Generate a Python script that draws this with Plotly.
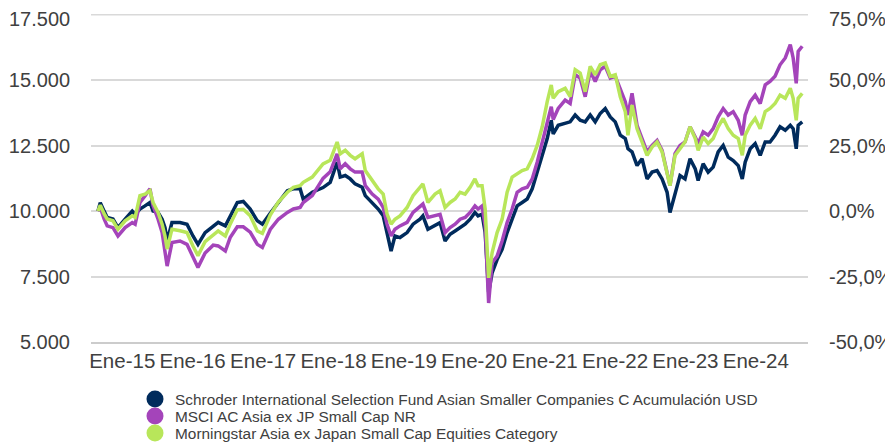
import plotly.graph_objects as go

dates = [
    '2014-08-28', '2014-09-09', '2014-09-29', '2014-10-15', '2014-11-14', '2014-12-10',
    '2015-01-16', '2015-02-22', '2015-03-09', '2015-04-03', '2015-04-29', '2015-05-25',
    '2015-06-10', '2015-07-06', '2015-07-27', '2015-08-11', '2015-08-22', '2015-09-16',
    '2015-10-28', '2015-12-03', '2016-01-03', '2016-01-29', '2016-03-06', '2016-04-17',
    '2016-05-13', '2016-06-19', '2016-07-14', '2016-08-20', '2016-09-20', '2016-10-26',
    '2016-12-02', '2016-12-28', '2017-02-07', '2017-03-21', '2017-05-07', '2017-06-07',
    '2017-07-12', '2017-07-28', '2017-09-13', '2017-11-08', '2017-12-15', '2018-01-20',
    '2018-02-05', '2018-03-03', '2018-03-29', '2018-04-23', '2018-05-30', '2018-06-15',
    '2018-07-21', '2018-08-21', '2018-09-16', '2018-10-06', '2018-10-27', '2018-11-16',
    '2018-12-12', '2019-01-18', '2019-02-18', '2019-03-26', '2019-04-10', '2019-05-06',
    '2019-06-12', '2019-07-08', '2019-08-03', '2019-08-29', '2019-09-24', '2019-10-20',
    '2019-11-15', '2019-12-11', '2020-01-05', '2020-01-21', '2020-02-11', '2020-02-27',
    '2020-03-16', '2020-04-03', '2020-04-29', '2020-05-25', '2020-06-20', '2020-07-16',
    '2020-08-11', '2020-09-06', '2020-10-02', '2020-10-28', '2020-11-23', '2020-12-19',
    '2021-01-14', '2021-02-04', '2021-02-14', '2021-03-12', '2021-04-17', '2021-05-13',
    '2021-06-08', '2021-07-04', '2021-07-30', '2021-08-25', '2021-09-20', '2021-10-16',
    '2021-11-11', '2021-12-07', '2022-01-02', '2022-01-28', '2022-02-23', '2022-03-09',
    '2022-03-30', '2022-04-25', '2022-05-21', '2022-06-16', '2022-07-12', '2022-08-07',
    '2022-09-02', '2022-09-28', '2022-10-13', '2022-11-08', '2022-12-04', '2022-12-30',
    '2023-01-25', '2023-02-21', '2023-03-08', '2023-04-03', '2023-04-29', '2023-05-25',
    '2023-06-20', '2023-07-16', '2023-08-11', '2023-09-06', '2023-10-02', '2023-10-23',
    '2023-11-07', '2023-12-03', '2023-12-29', '2024-01-24', '2024-02-19', '2024-03-15',
    '2024-04-10', '2024-05-06', '2024-06-02', '2024-06-28', '2024-07-13', '2024-07-29',
    '2024-08-08', '2024-08-29',
]

fund = [
    10000, 10320, 10000, 9760, 9700, 9370, 9690, 10000, 9880, 10080,
    10200, 10330, 10000, 9950, 9690, 9370, 8850, 9565, 9565, 9500,
    9050, 8730, 9180, 9400, 9570, 9435, 9820, 10330, 10370, 10080,
    9630, 9500, 9920, 10330, 10780, 10850, 10850, 10460, 10720, 10900,
    11100, 11870, 11300, 11360, 11230, 11040, 10910, 10590, 10330, 10080,
    9820, 9180, 8475, 9050, 8990, 9180, 9500, 9690, 9820, 9310,
    9470, 9560, 8860, 9115, 9240, 9370, 9500, 9690, 9950, 9820,
    9885, 9180, 6900, 7640, 8150, 8540, 9180, 9690, 10200, 10330,
    10460, 10850, 11490, 12130, 12770, 13470, 12950, 13280, 13340, 13410,
    13670, 13470, 13410, 13670, 13410, 13730, 13920, 13600, 13410, 12900,
    12770, 12380, 12260, 11740, 12000, 11230, 11490, 11550, 11230, 10720,
    9950, 10600, 11360, 11230, 12000, 11615, 11165, 11810, 11490, 11680,
    12260, 12510, 12060, 11930, 11740, 11230, 11870, 12380, 12580, 12130,
    12640, 12640, 12900, 13220, 13090, 13280, 13150, 12380, 13280, 13410,
]

msci = [
    10000, 10150, 9700, 9435, 9370, 9050, 9370, 9565, 9500, 10330,
    10580, 10850, 10200, 9690, 9180, 8410, 7900, 8800, 8860, 8730,
    8280, 7850, 8400, 8700, 8670, 8475, 8990, 9400, 9400, 9200,
    8730, 8610, 9300, 9690, 9950, 10080, 10140, 10330, 10590, 11250,
    11500, 12190, 11615, 11810, 11615, 11490, 11490, 10970, 10650, 10460,
    10140, 9500, 9050, 9310, 9435, 9570, 9950, 10200, 10270, 9760,
    9820, 9880, 9180, 9370, 9500, 9690, 9760, 9950, 10200, 10080,
    10200, 9435, 6490, 8025, 8280, 8860, 9565, 10080, 10720, 10850,
    10910, 11230, 11870, 12640, 13280, 13990, 13500, 13920, 14240, 14110,
    15210, 15080, 14370, 15340, 14950, 15400, 15530, 15080, 15150, 14630,
    14180, 13670, 14500, 13280, 12770, 12260, 12510, 12700, 12320, 11490,
    10970, 12200, 12510, 12640, 13220, 12830, 12580, 13030, 12900, 13150,
    13600, 13920, 13670, 13800, 13470, 12900, 13670, 14180, 14430, 14110,
    14820, 14950, 15150, 15590, 15850, 16360, 15850, 14880, 16100, 16300,
]

category = [
    10000, 10230, 9900, 9700, 9630, 9310, 9630, 9820, 9760, 10590,
    10650, 10780, 10330, 9950, 9500, 9050, 8550, 9310, 9250, 9180,
    8670, 8300, 8830, 9100, 9240, 9050, 9500, 10050, 10070, 9820,
    9240, 9150, 9850, 10350, 10720, 10910, 10970, 11100, 11300, 11800,
    11940, 12640, 12190, 12320, 12130, 12000, 12190, 11550, 11165, 10850,
    10650, 9885, 9500, 9690, 9820, 10140, 10590, 10910, 11040, 10330,
    10650, 10780, 10140, 10330, 10460, 10720, 10650, 10910, 11230, 10970,
    10970, 10080, 7450, 8410, 9180, 9690, 10720, 11300, 11420, 11550,
    11615, 12000, 12510, 13220, 14180, 14820, 14310, 14560, 14690, 14370,
    15400, 15270, 14560, 15530, 15210, 15590, 15660, 15150, 15210, 14370,
    13800, 12900, 14050, 13150, 12640, 12130, 12450, 12640, 12260, 11490,
    10970, 12130, 12380, 12640, 13220, 12770, 12320, 12830, 12580, 12770,
    13220, 13540, 13150, 12900, 12770, 12130, 12900, 13280, 13540, 13150,
    13800, 13920, 14110, 14430, 14310, 14690, 14310, 13470, 14310, 14500,
]

series_names = [
    'Schroder International Selection Fund Asian Smaller Companies C Acumulación USD',
    'MSCI AC Asia ex JP Small Cap NR',
    'Morningstar Asia ex Japan Small Cap Equities Category',
]
series_colors = ['#002B5C', '#A444BA', '#B8E65A']

years = list(range(2015, 2025))
tick_dates = [f'{y}-01-01' for y in years]
tick_labels = [f'Ene-{str(y)[2:]}' for y in years]

left_ticks = [5000, 7500, 10000, 12500, 15000, 17500]
left_labels = [f'{v:,}'.replace(',', '.') for v in left_ticks]
right_ticks = [v / 10000 - 1 for v in left_ticks]
right_labels = [f'{v * 100:.1f}%'.replace('.', ',') for v in right_ticks]

# value range of the left axis; a hair of headroom keeps the top gridline inside the plot
y_range = [5000, 17530]

fig = go.Figure()

for name, values, color in zip(series_names, [fund, msci, category], series_colors):
    fig.add_trace(go.Scatter(
        x=dates, y=values, mode='lines', name=name,
        line=dict(color=color, width=3.5), showlegend=False,
    ))

# cumulative return of the fund on the right-hand axis (kept invisible, it only carries the axis)
fig.add_trace(go.Scatter(
    x=dates, y=[v / 10000 - 1 for v in fund], yaxis='y2', mode='lines',
    line=dict(color='rgba(0,0,0,0)', width=0), hoverinfo='skip', showlegend=False,
))

font_color = '#404040'
grid_color = '#D9D9D9'
axis_font = dict(family='Liberation Sans, Arial, sans-serif', size=20, color=font_color)

# plot area size in pixels, used to place the hand-made legend
plot_w, plot_h = 717, 328

# legend drawn by hand: round swatches with tightly stacked rows
# (offsets measured from the plot area's left / bottom edge)
legend_dx = 64
legend_rows = [57, 74, 91]
for name, color, dy in zip(series_names, series_colors, legend_rows):
    fig.add_shape(
        type='circle', xref='paper', yref='paper',
        x0=(legend_dx - 8.5) / plot_w, x1=(legend_dx + 8.5) / plot_w,
        y0=(-dy - 8.5) / plot_h, y1=(-dy + 8.5) / plot_h,
        fillcolor=color, line=dict(width=0),
    )
    fig.add_annotation(
        x=(legend_dx + 18) / plot_w, y=-dy / plot_h, xref='paper', yref='paper',
        text=name, showarrow=False, xanchor='left', yanchor='middle',
        font=dict(size=15.4, color=font_color),
    )

# top gridline, drawn explicitly so it is not lost at the plot edge
fig.add_shape(
    type='line', xref='paper', yref='y', x0=0, x1=1,
    y0=left_ticks[-1], y1=left_ticks[-1],
    line=dict(color=grid_color, width=1.5), layer='below',
)

# the top labels sit a little below their gridline, as in the original
fig.add_annotation(
    x=0, y=left_ticks[-1], xref='paper', yref='y', text=left_labels[-1], showarrow=False,
    xanchor='right', yanchor='middle', xshift=-19, yshift=-4, font=axis_font,
)
fig.add_annotation(
    x=1, y=left_ticks[-1], xref='paper', yref='y', text=right_labels[-1], showarrow=False,
    xanchor='left', yanchor='middle', xshift=19, yshift=-4, font=axis_font,
)

# the page body adds an 8px margin, so the figure is 8px smaller than the window
fig.update_layout(
    width=885, height=436,
    margin=dict(l=83, r=85, t=6, b=102),
    paper_bgcolor='white', plot_bgcolor='white',
    font=dict(family='Liberation Sans, Arial, sans-serif', color=font_color, size=20.5),
    xaxis=dict(
        type='date',
        range=['2014-07-23', '2024-09-28'],
        tickvals=tick_dates, ticktext=tick_labels,
        showgrid=False, zeroline=False, ticks='',
        showline=True, linecolor='#CCCCCC', linewidth=1.5,
        automargin=False,
    ),
    yaxis=dict(
        range=y_range,
        tickvals=left_ticks,
        ticktext=left_labels[:-1] + [''],
        showgrid=True, gridcolor=grid_color, gridwidth=1.5,
        zeroline=False, showline=False, ticks='',
        ticklabelstandoff=20,
        ticklabeloverflow='allow',
        tickfont=axis_font,
        automargin=False,
    ),
    yaxis2=dict(
        overlaying='y', side='right', anchor='x',
        range=[v / 10000 - 1 for v in y_range],
        tickvals=right_ticks, ticktext=right_labels[:-1] + [''],
        showgrid=False, zeroline=False, showline=False, ticks='',
        ticklabelstandoff=20,
        ticklabeloverflow='allow',
        tickfont=axis_font,
        automargin=False,
    ),
    showlegend=False,
)

fig.write_html('out.html')
